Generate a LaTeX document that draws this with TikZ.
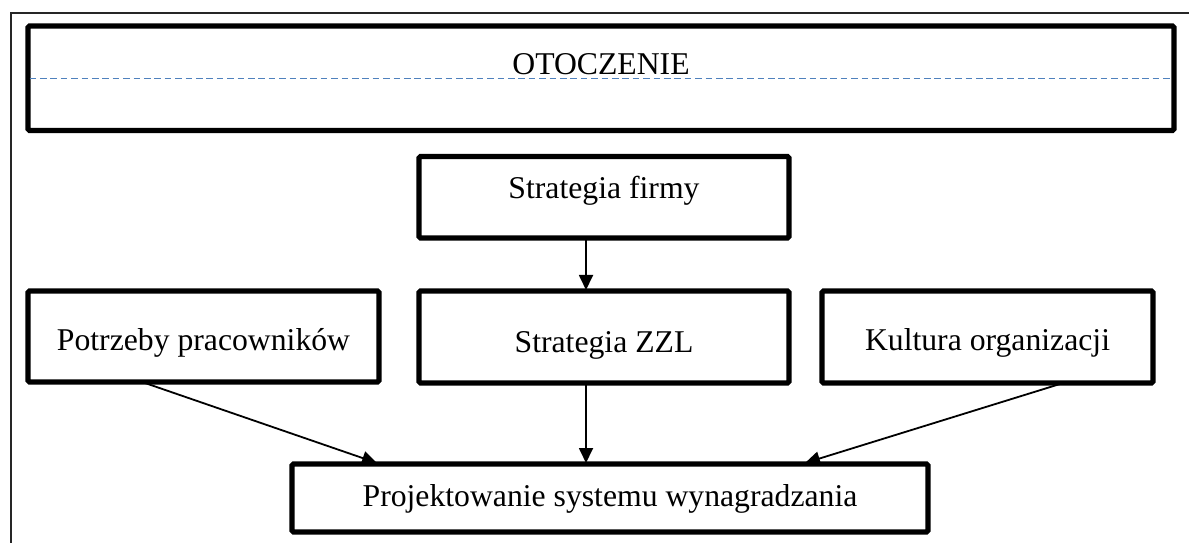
\documentclass[tikz,border=0pt]{standalone}
\usepackage{fontspec}
\setmainfont{Liberation Serif}
\usetikzlibrary{arrows.meta}
\definecolor{dashblue}{HTML}{4F81BD}
\tikzset{
  x=0.5bp, y=-0.5bp,
  frame/.style={draw=black, line width=2.6bp, rounded corners=0.8bp},
  label/.style={anchor=base, inner sep=0pt, font=\fontsize{15.85bp}{19bp}\selectfont},
  link/.style={draw=black, line width=0.9bp, -{Triangle[width=7bp,length=7.5bp]}},
}
\begin{document}
\begin{tikzpicture}
\useasboundingbox (0,0) rectangle (1189,543);
% page frame (only top and left edges fall inside the picture)
\draw[line width=1bp, black!85] (1195,13.5) -- (10.5,13.5) -- (10.5,550);

% environment band
\draw[frame] (28,26) rectangle (1174,130.5);
\draw[dashblue, line width=0.65bp, dash pattern=on 3.3bp off 1.9bp] (29.5,78.3) -- (1172.5,78.3);
\node[label] (otoczenie) at (601,74.3) {OTOCZENIE};

% boxes
\draw[frame] (419,156.5) rectangle (789,238);
\coordinate (firmaB) at (586,239);
\node[label] (firma) at (604,199) {Strategia firmy};

\draw[frame] (28,291) rectangle (379,382);
\coordinate (potrzebyB) at (145,383);
\node[label] (potrzeby) at (203.5,350) {Potrzeby pracowników};

\draw[frame] (419,291) rectangle (789,383);
\coordinate (zzlT) at (586,290);
\coordinate (zzlB) at (586,384);
\node[label] (zzl) at (604,352) {Strategia ZZL};

\draw[frame] (822,291) rectangle (1153,383);
\coordinate (kulturaB) at (1060,384);
\node[label] (kultura) at (987.5,350) {Kultura organizacji};

\draw[frame] (292,464) rectangle (928,532);
\coordinate (projL) at (377,463);
\coordinate (projM) at (586,463);
\coordinate (projR) at (805,463);
\node[label] (proj) at (610,506) {Projektowanie systemu wynagradzania};

% connectors
\draw[link] (firmaB) -- (zzlT);
\draw[link] (zzlB) -- (projM);
\draw[link] (potrzebyB) -- (projL);
\draw[link] (kulturaB) -- (projR);
\end{tikzpicture}
\end{document}
